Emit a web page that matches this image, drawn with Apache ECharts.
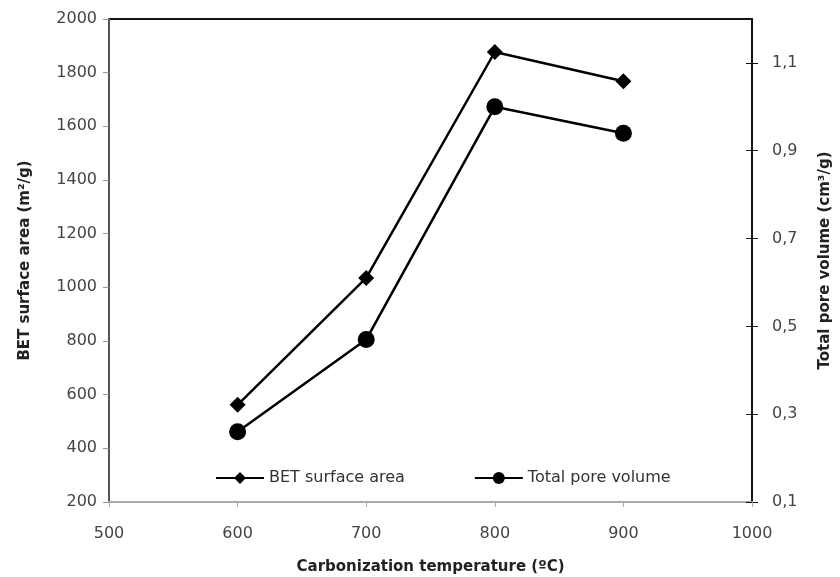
<!DOCTYPE html>
<html>
<head>
<meta charset="utf-8">
<script src="https://cdn.jsdelivr.net/npm/echarts@6/dist/echarts.min.js"></script>
<style>
  html, body { margin: 0; padding: 0; background: #fff; }
  #chart { width: 840px; height: 577px; }
</style>
</head>
<body>
<div id="chart"></div>
<script>
var temperatures = [600, 700, 800, 900];
var betArea = [562, 1035, 1877, 1768];
var poreVolume = [0.26, 0.47, 1.0, 0.94];
// right axis runs 0.1 .. 1.2, labels every 0.2 starting at 0.1
var poreMin = 0.1;

var chart = echarts.init(document.getElementById('chart'));
var font = 'DejaVu Sans';
var titleStyle = { fontFamily: font, fontSize: 15, fontWeight: 'bold', color: '#222' };
var plain = function (v) { return String(v); };
var poreAxisBase = {
    type: 'value',
    position: 'right',
    min: 0,
    max: 1.1,
    interval: 0.2,
    splitLine: { show: false }
};

chart.setOption({
    animation: false,
    grid: {
        left: 109,
        right: 88,
        top: 19,
        bottom: 75,
        outerBoundsMode: 'none',
        show: true,
        borderColor: '#111',
        borderWidth: 2
    },
    legend: {
        left: 210,
        top: 465,
        itemWidth: 48,
        itemHeight: 15,
        itemGap: 69,
        textStyle: { fontFamily: font, fontSize: 16, color: '#333' },
        data: ['BET surface area', 'Total pore volume']
    },
    xAxis: {
        type: 'value',
        min: 500,
        max: 1000,
        interval: 100,
        name: 'Carbonization temperature (ºC)',
        nameLocation: 'middle',
        nameGap: 58,
        nameTextStyle: titleStyle,
        axisLine: { lineStyle: { color: '#aaa', width: 2 } },
        axisTick: { show: true, length: 5, lineStyle: { color: '#aaa' } },
        axisLabel: { fontFamily: font, fontSize: 16, color: '#444', margin: 24, formatter: plain },
        splitLine: { show: false }
    },
    yAxis: [
        {
            type: 'value',
            min: 200,
            max: 2000,
            interval: 200,
            name: 'BET surface area (m²/g)',
            nameLocation: 'middle',
            nameGap: 76,
            nameTextStyle: titleStyle,
            axisLine: { show: true, lineStyle: { color: '#555', width: 2 } },
            axisTick: { show: true, length: 6, lineStyle: { color: '#999' } },
            axisLabel: { fontFamily: font, fontSize: 16, color: '#444', margin: 12, formatter: plain },
            splitLine: { show: false }
        },
        Object.assign({}, poreAxisBase, {
            name: 'Total pore volume (cm³/g)',
            nameLocation: 'middle',
            nameGap: 66,
            nameRotate: 90,
            nameTextStyle: titleStyle,
            axisLine: { show: true, lineStyle: { color: '#111', width: 2 } },
            axisTick: { show: true, length: 6, lineStyle: { color: '#111' } },
            axisLabel: {
                fontFamily: font, fontSize: 16, color: '#444', margin: 20,
                showMaxLabel: false,
                formatter: function (v) {
                    return (Math.round((v + poreMin) * 10) / 10).toFixed(1).replace('.', ',');
                }
            }
        }),
        // inner half of the crossing ticks on the right axis
        Object.assign({}, poreAxisBase, {
            axisLine: { show: false },
            axisTick: { show: true, inside: true, length: 6, lineStyle: { color: '#111' } },
            axisLabel: { show: false }
        })
    ],
    series: [
        {
            name: 'BET surface area',
            type: 'line',
            yAxisIndex: 0,
            symbol: 'diamond',
            symbolSize: 16,
            itemStyle: { color: '#000' },
            lineStyle: { color: '#000', width: 2.5 },
            data: temperatures.map(function (t, i) { return [t, betArea[i]]; })
        },
        {
            name: 'Total pore volume',
            type: 'line',
            yAxisIndex: 1,
            symbol: 'circle',
            symbolSize: 17,
            itemStyle: { color: '#000' },
            lineStyle: { color: '#000', width: 2.5 },
            data: temperatures.map(function (t, i) { return [t, poreVolume[i] - poreMin]; })
        }
    ]
});
</script>
</body>
</html>
